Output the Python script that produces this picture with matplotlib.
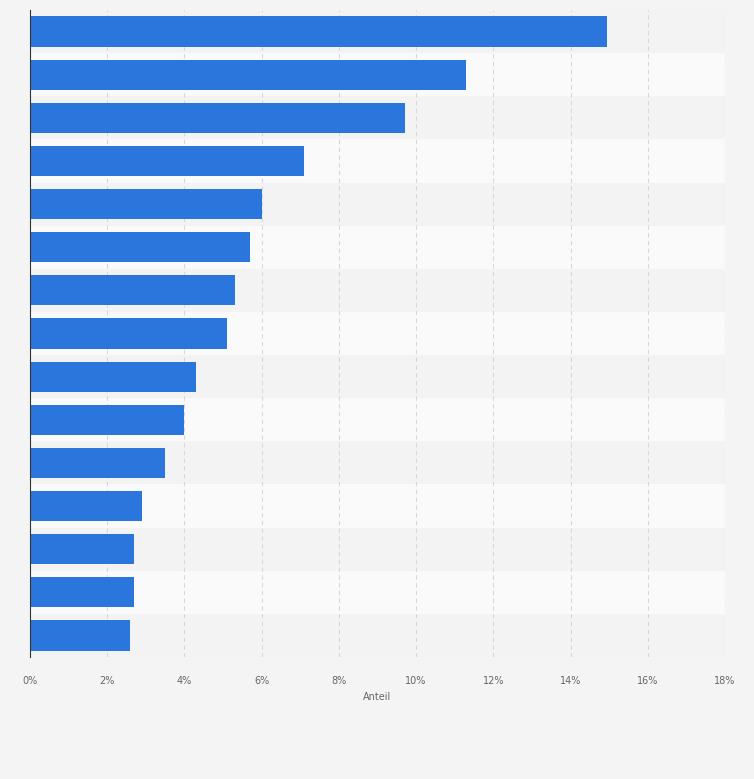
import matplotlib
matplotlib.use("Agg")
import matplotlib.pyplot as plt
from matplotlib.ticker import FuncFormatter

values = [14.95, 11.3, 9.7, 7.1, 6.0, 5.7, 5.3, 5.1, 4.3, 4.0, 3.5, 2.9, 2.7, 2.7, 2.6]
xticks = [0, 2, 4, 6, 8, 10, 12, 14, 16, 18]

fig = plt.figure(figsize=(7.54, 7.79), dpi=100, facecolor="#f4f4f4")
ax = fig.add_axes([30 / 754, 1 - 657 / 779, 695 / 754, 647 / 779])
ax.set_facecolor("#f4f4f4")

n = len(values)
ys = list(range(n))
for i in ys:
    ax.axhspan(i - 0.5, i + 0.5, color="#f3f3f3" if i % 2 == 0 else "#fafafa", zorder=0, lw=0)
for x in xticks[1:]:
    ax.axvline(x, color="#d8d8d8", lw=0.8, ls=(0, (4, 3)), zorder=1)

ax.barh(ys, values, height=0.7, color="#2a76dd", zorder=2)
ax.set_ylim(n - 0.5, -0.5)
ax.set_xlim(0, 18)
ax.set_xticks(xticks)
ax.xaxis.set_major_formatter(FuncFormatter(lambda v, _: f"{v:.0f}%"))
ax.tick_params(axis="x", labelsize=7, colors="#666666", length=0, pad=14)
ax.set_yticks([])
for s in ["top", "right", "bottom"]:
    ax.spines[s].set_visible(False)
ax.spines["left"].set_color("#333333")
ax.spines["left"].set_linewidth(0.8)
ax.set_xlabel("Anteil", fontsize=7, color="#666666", labelpad=4)

fig.savefig("out.png", dpi=100, facecolor=fig.get_facecolor())
